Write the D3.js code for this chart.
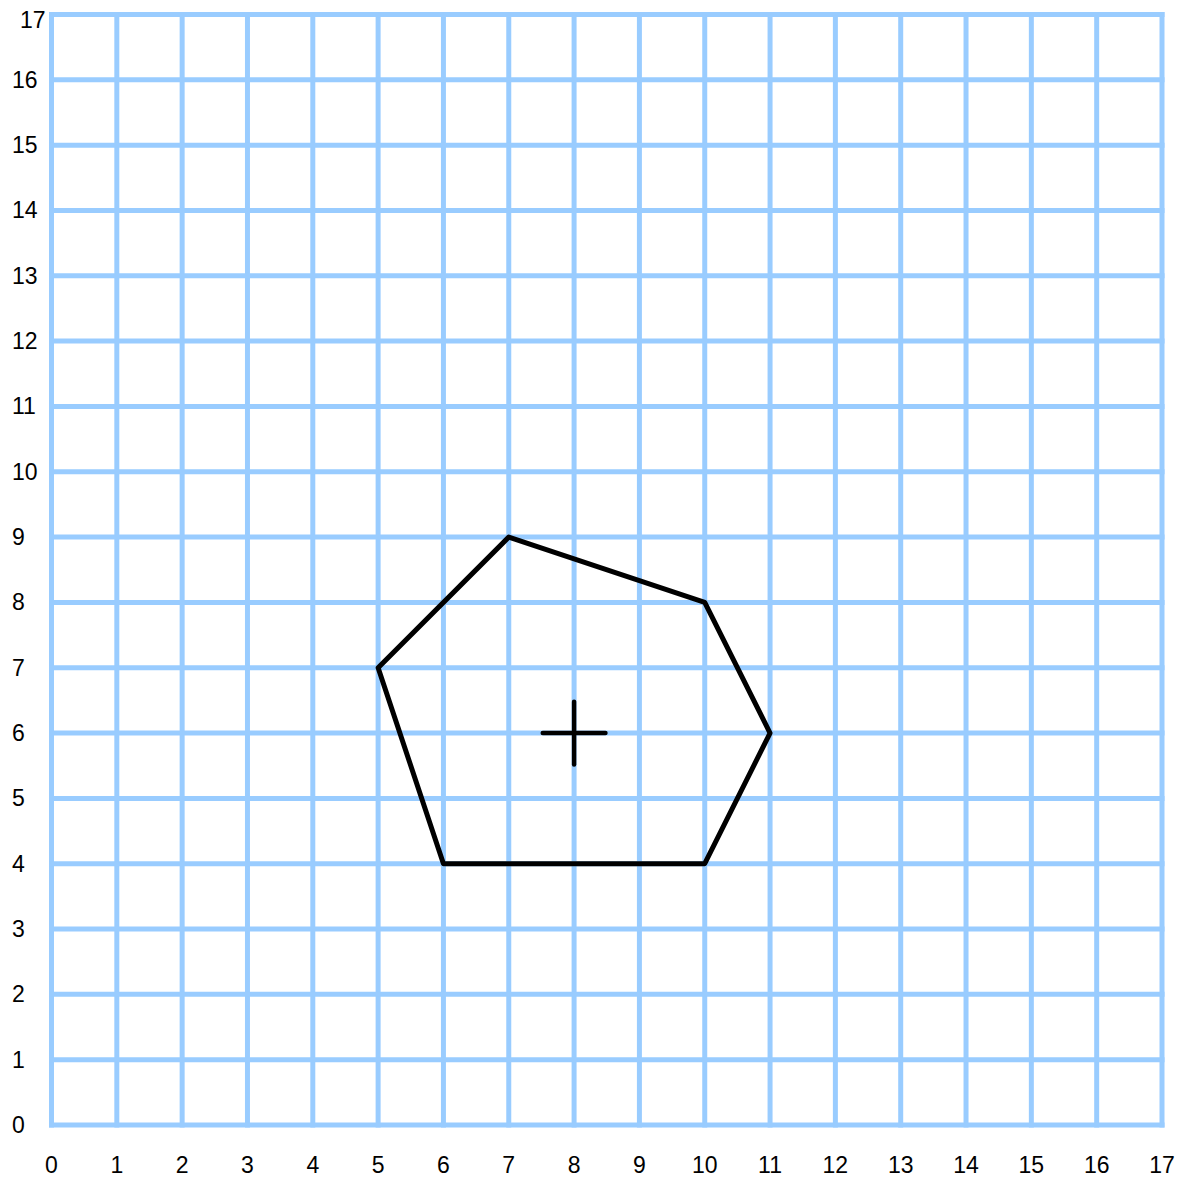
<!DOCTYPE html>
<html>
<head>
<meta charset="utf-8">
<script src="https://cdn.jsdelivr.net/npm/d3@7"></script>
<style>
  body { margin: 0; background: #fff; }
  text { font-family: "Liberation Sans", Arial, sans-serif; font-size: 23px; fill: #000; }
</style>
</head>
<body>
<svg id="chart"></svg>
<script>
// Set dimensions
const width = 1182, height = 1181;

// Grid ticks and shape data
const xTicks = d3.range(0, 18);
const yTicks = d3.range(0, 18);
const polyX = [7, 10, 11, 10, 6, 5];
const polyY = [9, 8, 6, 4, 4, 7];
const centerX = [8];
const centerY = [6];

const svg = d3.select("#chart")
    .attr("width", width)
    .attr("height", height);

// Scales
const x = d3.scaleLinear().domain([0, 17]).range([51.5, 1162]);
const y = d3.scaleLinear().domain([0, 17]).range([1125, 14.5]);

// Grid lines
const grid = svg.append("g")
    .attr("stroke", "#99ccff")
    .attr("stroke-width", 5)
    .attr("stroke-linecap", "square");

grid.selectAll(".v")
    .data(xTicks)
    .enter()
    .append("line")
    .attr("x1", d => x(d))
    .attr("x2", d => x(d))
    .attr("y1", y(0))
    .attr("y2", y(17));

grid.selectAll(".h")
    .data(yTicks)
    .enter()
    .append("line")
    .attr("y1", d => y(d))
    .attr("y2", d => y(d))
    .attr("x1", x(0))
    .attr("x2", x(17));

// Axis labels
svg.append("g").selectAll("text")
    .data(xTicks)
    .enter()
    .append("text")
    .attr("x", d => x(d))
    .attr("y", y(0) + 48)
    .attr("text-anchor", "middle")
    .text(d => d);

svg.append("g").selectAll("text")
    .data(yTicks)
    .enter()
    .append("text")
    .attr("x", d => d === 17 ? 20 : 12)
    .attr("y", d => d === 17 ? y(d) + 13 : y(d) + 8)
    .attr("text-anchor", "start")
    .text(d => d);

// Polygon
const pts = polyX.map((d, i) => [x(d), y(polyY[i])]);
svg.append("path")
    .datum(pts)
    .attr("d", d3.line().curve(d3.curveLinearClosed))
    .attr("fill", "none")
    .attr("stroke", "#000")
    .attr("stroke-width", 5)
    .attr("stroke-linejoin", "round");

// Centre cross
const cross = svg.append("g")
    .attr("stroke", "#000")
    .attr("stroke-width", 4.5)
    .attr("stroke-linecap", "round");
centerX.forEach((cx, i) => {
    const cy = centerY[i];
    cross.append("line")
        .attr("x1", x(cx - 0.48)).attr("x2", x(cx + 0.48))
        .attr("y1", y(cy)).attr("y2", y(cy));
    cross.append("line")
        .attr("x1", x(cx)).attr("x2", x(cx))
        .attr("y1", y(cy - 0.48)).attr("y2", y(cy + 0.48));
});
</script>
</body>
</html>
